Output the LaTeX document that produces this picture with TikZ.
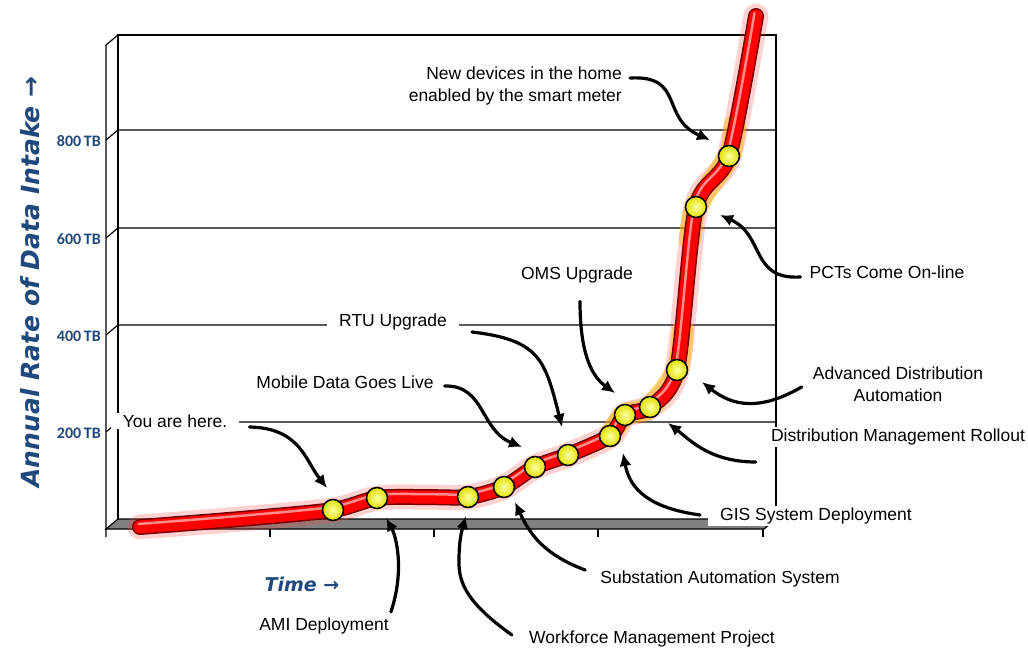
\documentclass[tikz,border=0pt]{standalone}
\usepackage{fontspec}
\setmainfont{Liberation Sans}
\newfontfamily\axisfont{DejaVu Sans}
\newfontfamily\tickfont{Carlito}
\usetikzlibrary{arrows.meta}

\definecolor{axisblue}{RGB}{31,73,125}
\definecolor{floorgray}{RGB}{128,128,128}

\tikzset{
  datacurve/.style = {insert path={plot[smooth, tension=0.45] coordinates {
    (140,527) (240,519) (333,510) (377,498) (422,497) (468,497) (504,487)
    (535,467) (568,455) (610,436) (625,415) (650,407) (677,370) (696,207)
    (729,156) (756,16)}}},
}

\begin{document}
\begin{tikzpicture}[x=1pt, y=-1pt,
  >={Latex[length=13pt, width=12pt]},
  callout/.style  = {->, line width=3.2pt, line cap=round},
  tag/.style      = {fill=white, inner xsep=12pt, inner ysep=2pt,
                     font=\fontsize{17.5}{22}\selectfont},
  gridline/.style = {line width=1.2pt},
  ball/.style     = {circle, draw=black, line width=1.5pt, shading=radial,
                     inner color=yellow!35!white, outer color=yellow!88!black,
                     minimum size=21pt, inner sep=0pt},
  tube/.style     = {line cap=round, line join=round},
]
  \useasboundingbox (0,0) rectangle (1028,648);

  % chart box: back wall, side wall and floor
  \draw[gridline] (118,520) -- (118,35) -- (776,35) -- (776,520);
  \draw[gridline] (106,537) -- (106,45) -- (118,35);
  \draw[gridline, fill=floorgray] (106,529) -- (118,519) -- (776,519) -- (764,529) -- cycle;
  \foreach \x in {270,434,598,763}
    \draw[gridline] (\x,529) -- (\x,537);

  % value grid with labels on the side wall
  \foreach \y/\v in {422/200, 325/400, 228/600, 130/800} {
    \draw[gridline] (106,\y+10) -- (118,\y) -- (776,\y);
    \node[anchor=east, inner sep=0pt, text=axisblue,
          font=\tickfont\bfseries\fontsize{16}{18}\selectfont] (tick\v) at (101,\y+11) {\v\,TB};
  }

  % axis titles
  \node[rotate=90, text=axisblue, font=\axisfont\bfseries\itshape\fontsize{25}{30}\selectfont]
    (yaxis) at (30,282) {Annual Rate of Data Intake →};
  \node[text=axisblue, font=\axisfont\bfseries\itshape\fontsize{19}{22}\selectfont]
    (time) at (302,584) {Time →};

  % glowing red tube
  \draw[tube, line width=25pt, red!70, opacity=0.25, datacurve];
  \draw[tube, line width=22pt, orange!55!yellow, opacity=0.5]
    plot[smooth, tension=0.45] coordinates {(610,436) (625,415) (650,407) (677,370) (683,330)};
  \draw[tube, line width=22pt, orange!55!yellow, opacity=0.5]
    plot[smooth, tension=0.45] coordinates {(690,240) (696,207) (729,156) (735,125)};
  \draw[tube, line width=16pt, red!45!black, datacurve];
  \draw[tube, line width=13pt, red, datacurve];
  \draw[tube, line width=2.5pt, white, opacity=0.55, shift={(-1.5,-3)}, datacurve];

  % milestones along the curve
  \foreach \p [count=\i] in {(333,510),(377,498),(468,497),(504,487),(535,467),(568,455),
                             (610,436),(625,415),(650,407),(677,370),(696,207),(729,156)}
    \node[ball] (b\i) at \p {};

  % milestone labels
  \node[tag] (you)    at (175,421) {You are here.};
  \node[tag] (mobile) at (345,382) {Mobile Data Goes Live};
  \node[tag] (rtu)    at (393,322) {RTU Upgrade};
  \node[tag] (oms)    at (577,275) {OMS Upgrade};
  \node[tag, align=right, anchor=east] (newdev) at (634,86)
    {New devices in the home\\enabled by the smart meter};
  \node[tag] (pcts)   at (887,272) {PCTs Come On-line};
  \node[tag, align=center] (advdist) at (898,384) {Advanced Distribution\\Automation};
  \node[tag] (distroll) at (898,437) {Distribution Management Rollout};
  \node[tag] (gis)    at (816,516) {GIS System Deployment};
  \node[tag] (subst)  at (720,579) {Substation Automation System};
  \node[tag] (ami)    at (324,626) {AMI Deployment};
  \node[tag] (wfm)    at (652,639) {Workforce Management Project};

  % arrow tips next to the milestones
  \coordinate (you-tip)      at (327,488);
  \coordinate (ami-tip)      at (386,518);
  \coordinate (wfm-tip)      at (466,516);
  \coordinate (subst-tip)    at (515,502);
  \coordinate (mobile-tip)   at (522,447);
  \coordinate (rtu-tip)      at (562,427);
  \coordinate (oms-tip)      at (615,393);
  \coordinate (gis-tip)      at (623,453);
  \coordinate (distroll-tip) at (668,423);
  \coordinate (advdist-tip)  at (702,382);
  \coordinate (pcts-tip)     at (720,215);
  \coordinate (newdev-tip)   at (710,140);

  % callout arrows
  \draw[callout] ([shift={(10,6)}]you.east) .. controls (300,428) and (305,460) .. (you-tip);
  \draw[callout] ([shift={(-10,-14)}]ami.east) .. controls (405,570) and (396,536) .. (ami-tip);
  \draw[callout] ([shift={(-5,-4)}]wfm.west) .. controls (470,605) and (458,585) .. (459,560)
                 .. controls (459,540) and (462,530) .. (wfm-tip);
  \draw[callout] ([shift={(-3,-9)}]subst.west) .. controls (545,555) and (530,535) .. (subst-tip);
  \draw[callout] ([shift={(-1,4)}]mobile.east) .. controls (485,385) and (480,430) .. (mobile-tip);
  \draw[callout] ([shift={(13,10)}]rtu.east) .. controls (540,340) and (545,360) .. (rtu-tip);
  \draw[callout] ([shift={(3,16)}]oms.south) .. controls (580,350) and (590,375) .. (oms-tip);
  \draw[callout] ([shift={(-8,-1)}]gis.west) .. controls (650,508) and (630,490) .. (gis-tip);
  \draw[callout] ([shift={(-3,25)}]distroll.west) .. controls (710,462) and (690,440) .. (distroll-tip);
  \draw[callout] ([shift={(1,3)}]advdist.west) .. controls (770,405) and (740,412) .. (advdist-tip);
  \draw[callout] ([shift={(3,5)}]pcts.west) .. controls (750,280) and (765,235) .. (pcts-tip);
  \draw[callout] ([shift={(-4,-8)}]newdev.east) .. controls (685,75) and (660,118) .. (newdev-tip);
\end{tikzpicture}
\end{document}
